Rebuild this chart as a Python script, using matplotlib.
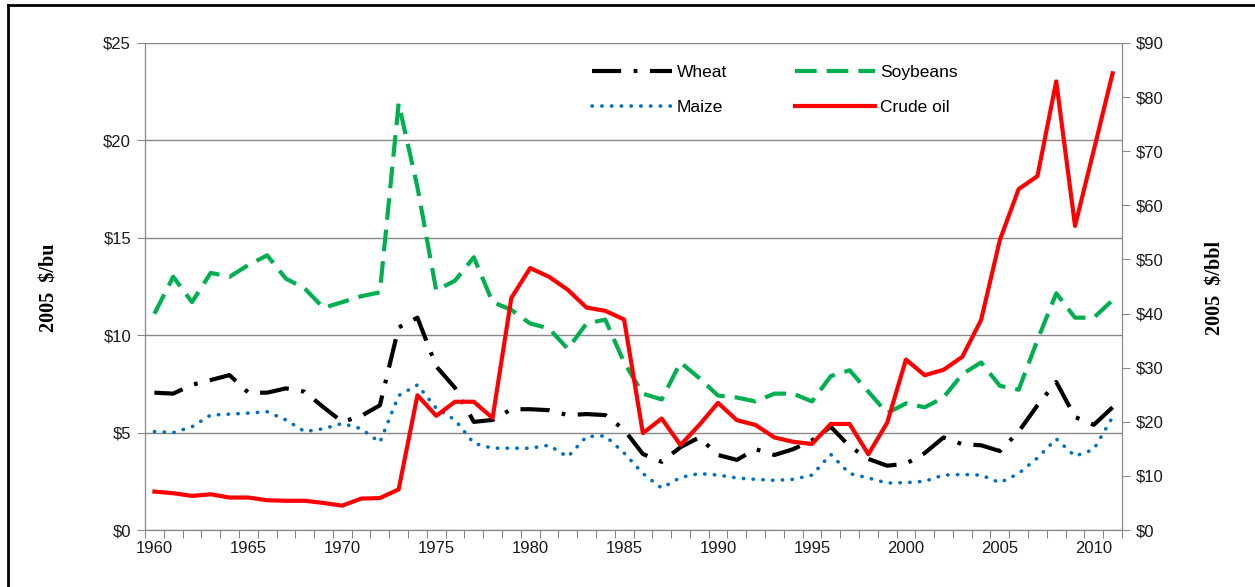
import numpy as np
import matplotlib
matplotlib.use("Agg")
import matplotlib.pyplot as plt
from matplotlib.lines import Line2D

plt.rcParams['font.family'] = ['Liberation Sans', 'DejaVu Sans']

years = list(range(1960, 2012))

# 2005 $/bu
wheat = [7.05, 7.0, 7.45, 7.7, 7.95, 7.05, 7.05, 7.27, 7.1, 6.3,
         5.55, 5.85, 6.4, 10.4, 10.9, 8.4, 7.3, 5.55, 5.65, 6.2,
         6.2, 6.15, 5.9, 5.95, 5.9, 5.15, 3.9, 3.5, 4.25, 4.75,
         3.85, 3.6, 4.15, 3.85, 4.15, 4.6, 5.3, 4.3, 3.65, 3.3,
         3.4, 3.95, 4.75, 4.4, 4.35, 4.05, 5.05, 6.4, 7.6, 5.8,
         5.4, 6.3]
soybeans = [11.1, 13.0, 11.7, 13.2, 13.0, 13.6, 14.1, 12.9, 12.4, 11.4,
            11.7, 12.0, 12.2, 21.9, 17.6, 12.3, 12.8, 14.0, 11.7, 11.3,
            10.6, 10.35, 9.3, 10.6, 10.8, 8.6, 7.0, 6.7, 8.6, 7.8,
            6.9, 6.8, 6.6, 7.0, 7.0, 6.6, 7.9, 8.2, 7.1, 6.0,
            6.5, 6.3, 6.8, 8.0, 8.6, 7.4, 7.2, 9.75, 12.15, 10.9,
            10.9, 11.8]
maize = [5.05, 5.0, 5.3, 5.9, 5.95, 6.0, 6.07, 5.65, 5.05, 5.2,
         5.47, 5.2, 4.5, 6.9, 7.45, 6.25, 5.65, 4.45, 4.2, 4.2,
         4.2, 4.35, 3.75, 4.8, 4.83, 3.95, 2.9, 2.15, 2.7, 2.9,
         2.82, 2.67, 2.6, 2.55, 2.6, 2.82, 3.88, 2.9, 2.67, 2.41,
         2.43, 2.5, 2.82, 2.85, 2.82, 2.43, 2.9, 3.7, 4.68, 3.79,
         4.14, 5.8]
# 2005 $/bbl
crude_oil = [7.1, 6.8, 6.3, 6.6, 6.0, 6.0, 5.5, 5.4, 5.4, 5.0,
             4.5, 5.8, 5.9, 7.5, 24.9, 21.1, 23.7, 23.7, 20.7, 42.9,
             48.4, 46.8, 44.4, 41.1, 40.5, 38.9, 17.9, 20.6, 15.7, 19.4,
             23.5, 20.3, 19.4, 17.1, 16.3, 15.9, 19.6, 19.6, 14.0, 19.8,
             31.5, 28.6, 29.6, 32.0, 38.8, 53.6, 63.0, 65.4, 82.9, 56.2,
             70.2, 84.4]

left_ticks = [0, 5, 10, 15, 20, 25]
right_ticks = [0, 10, 20, 30, 40, 50, 60, 70, 80, 90]
year_labels = [1960, 1965, 1970, 1975, 1980, 1985, 1990, 1995, 2000, 2005, 2010]

axcol = '#888888'

fig = plt.figure(figsize=(12.55, 5.87), dpi=100)
ax = fig.add_axes([145/1255, 1-530/587, (1122-145)/1255, (530-43)/587])
ax2 = ax.twinx()

l_wheat, = ax.plot(years, wheat, color='black', lw=3,
                   dashes=(7, 3, 0.9, 3), label='Wheat')
l_maize, = ax.plot(years, maize, color='#0070C0', lw=2.6,
                   dashes=(0.1, 2.6), dash_capstyle='round', label='Maize')
l_soy, = ax.plot(years, soybeans, color='#00B050', lw=3,
                 dashes=(5.2, 2.4), label='Soybeans')
l_oil, = ax2.plot(years, crude_oil, color='#FF0000', lw=3, label='Crude oil')

ax.set_xlim(1959.5, 2011.5)
ax.set_ylim(0, 25)
ax2.set_ylim(0, 90)

ax.set_yticks(left_ticks)
ax.set_yticklabels(['$%d' % v for v in left_ticks])
ax2.set_yticks(right_ticks)
ax2.set_yticklabels(['$%d' % v for v in right_ticks])

ax.set_xticks(np.arange(1959.5, 2012, 1))
ax.set_xticklabels([])
ax.set_xticks(year_labels, minor=True)
ax.set_xticklabels([str(y) for y in year_labels], minor=True)

for a in (ax, ax2):
    a.tick_params(which='both', labelsize=12, labelcolor='#1a1a1a')
    for s in a.spines.values():
        s.set_color(axcol)
    a.spines['top'].set_visible(False)
ax.tick_params(axis='x', which='minor', length=0, pad=8)
ax.tick_params(axis='x', which='major', length=6, color=axcol)
ax.tick_params(axis='y', length=6, color=axcol, pad=4)
ax2.tick_params(axis='y', length=6, color=axcol, pad=4)

ax.grid(axis='y', color=axcol, lw=1)
ax.set_axisbelow(True)

fig.text(50/1255, 1-288/587, '2005  $/bu', rotation=90, ha='center', va='center',
         fontsize=14.5, fontweight='bold', family='Liberation Serif')
fig.text(1215/1255, 1-288/587, '2005  $/bbl', rotation=90, ha='center', va='center',
         fontsize=14.5, fontweight='bold', family='Liberation Serif')

ax2.legend([l_wheat, l_maize, l_soy, l_oil], ['Wheat', 'Maize', 'Soybeans', 'Crude oil'],
           ncol=2, frameon=False, loc='upper left',
           bbox_to_anchor=(592/1255, 1-65/587), bbox_transform=fig.transFigure,
           borderaxespad=0, borderpad=0, fontsize=12.5,
           handlelength=4.6, handletextpad=0.3, columnspacing=3.9, labelspacing=1.15)

# outer frame of the picture
fig.add_artist(Line2D([8/1255, 1], [1-5/587, 1-5/587], transform=fig.transFigure,
                      color='black', lw=2))
fig.add_artist(Line2D([8/1255, 8/1255], [0, 1-5/587], transform=fig.transFigure,
                      color='black', lw=2))

fig.savefig('out.png', dpi=100)
